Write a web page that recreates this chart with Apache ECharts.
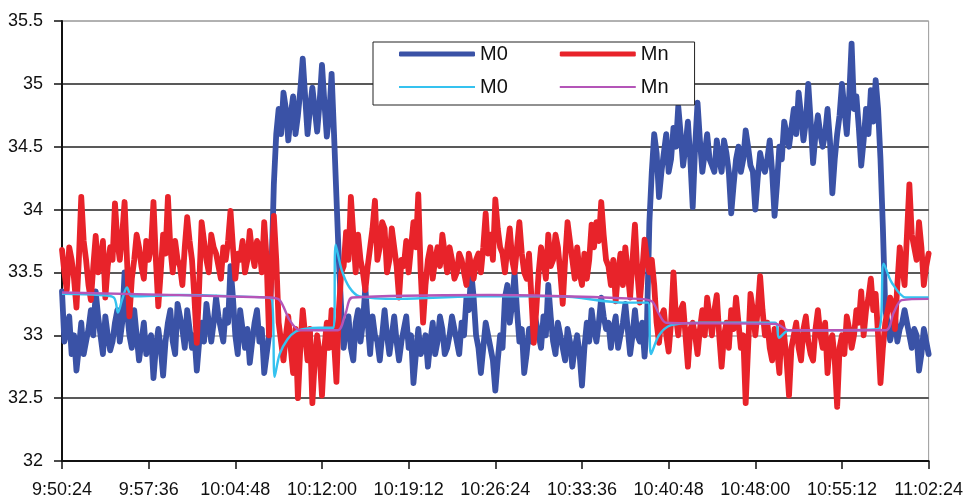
<!DOCTYPE html>
<html>
<head>
<meta charset="utf-8">
<script src="https://cdn.jsdelivr.net/npm/echarts@6/dist/echarts.min.js"></script>
<style>html,body{margin:0;padding:0;background:#fff;}#chart{width:966px;height:502px;}</style>
</head>
<body>
<div id="chart"></div>
<script>
// Time axis: seconds after 9:50:24, tick every 7:12 (432 s)
const xTickLabels = ['9:50:24','9:57:36','10:04:48','10:12:00','10:19:12','10:26:24','10:33:36','10:40:48','10:48:00','10:55:12','11:02:24'];
const sampleStep = 12; // seconds between samples of the measured series

// Measured M0 (thick blue)
const m0Measured = [
33.35,32.95,33.05,33.15,32.85,33.0,32.72,32.9,33.1,32.85,32.95,33.05,33.2,33.0,33.35,33.15,33.0,32.85,33.15,33.0,
32.88,32.95,33.1,33.2,32.95,33.1,33.5,33.2,33.0,32.9,33.2,33.0,32.8,32.95,33.1,32.85,32.95,33.0,32.66,32.9,
33.05,32.9,32.68,32.95,33.1,33.2,32.95,32.85,33.25,33.15,33.05,32.9,33.2,33.05,32.9,33.0,32.72,32.95,33.1,32.95,
33.25,33.1,32.95,33.1,33.3,33.15,33.05,32.95,33.2,33.1,33.55,33.3,33.0,32.85,33.2,33.05,32.9,33.05,32.78,32.95,
33.1,33.2,32.95,33.05,32.7,32.85,33.0,33.5,34.2,34.6,34.8,34.6,34.93,34.8,34.55,34.75,34.9,34.6,34.75,34.95,
35.2,34.9,34.6,34.8,34.97,34.8,34.62,34.85,35.15,34.85,34.58,34.75,35.08,34.6,34.1,33.6,33.2,32.9,33.05,33.15,
32.9,32.8,33.1,33.2,32.95,33.1,33.38,33.1,32.85,33.15,33.0,32.95,32.8,33.0,33.2,33.0,32.85,33.0,33.15,32.95,
32.8,32.95,33.05,33.15,32.9,33.0,32.62,32.85,33.05,32.85,32.9,33.0,32.75,32.95,33.1,32.85,32.95,33.15,33.05,32.85,
32.9,33.0,33.15,33.05,32.95,32.85,33.1,33.0,33.3,33.2,33.5,33.3,33.0,32.9,32.7,32.9,33.1,33.0,32.9,32.8,
32.56,32.8,33.0,32.9,33.3,33.4,33.1,33.25,33.5,33.2,32.95,33.05,32.7,32.85,33.05,32.95,33.2,33.1,33.0,32.9,
33.15,33.0,33.4,33.15,32.95,32.85,33.1,33.0,32.9,32.8,33.05,32.95,32.75,32.9,33.0,32.85,32.6,32.9,33.1,32.95,
33.2,33.05,32.95,33.1,33.3,33.15,33.05,33.1,32.9,33.05,33.15,32.9,33.0,33.1,33.25,33.05,32.85,33.0,33.2,33.0,
32.95,33.1,32.83,33.1,33.9,34.3,34.6,34.45,34.1,34.3,34.45,34.6,34.3,34.4,34.65,34.5,34.82,34.6,34.35,34.5,
34.7,34.4,34.02,34.5,34.85,34.55,34.3,34.45,34.6,34.4,34.35,34.3,34.55,34.4,34.3,34.55,34.45,34.3,33.97,34.2,
34.4,34.5,34.3,34.4,34.63,34.5,34.35,34.3,34.0,34.25,34.45,34.35,34.3,34.4,34.55,34.3,33.95,34.2,34.5,34.4,
34.7,34.6,34.5,34.65,34.8,34.6,34.93,34.75,34.55,34.7,35.0,34.7,34.37,34.6,34.75,34.6,34.5,34.6,34.8,34.55,
34.13,34.4,34.6,34.75,35.0,34.8,34.6,34.9,35.32,34.8,34.9,34.65,34.35,34.55,34.8,34.6,34.95,34.7,35.03,34.8,
34.4,33.85,33.2,33.1,32.96,33.05,33.15,32.95,33.05,33.1,33.2,33.1,33.0,32.9,33.05,33.0,32.72,32.85,33.05,32.95,
32.85
];

// Measured Mn (thick red)
const mnMeasured = [
33.68,33.5,33.36,33.7,33.6,33.45,33.22,33.6,34.1,33.75,33.6,33.4,33.28,33.55,33.79,33.5,33.6,33.75,33.3,33.55,
33.7,33.6,34.05,33.75,33.6,33.8,34.06,33.6,33.15,33.45,33.6,33.8,33.7,33.55,33.45,33.75,33.6,33.7,34.06,33.6,
33.23,33.5,33.8,33.65,34.1,33.7,33.5,33.75,33.6,33.55,33.4,33.7,33.94,33.75,33.6,33.3,32.94,33.4,33.9,33.75,
33.6,33.5,33.8,33.7,33.65,33.55,33.45,33.7,33.6,33.75,33.99,33.7,33.45,33.65,33.6,33.75,33.5,33.6,33.83,33.65,
33.55,33.75,33.7,33.5,33.9,33.6,33.0,33.5,33.95,33.6,33.1,32.95,32.8,33.0,33.15,32.9,32.7,33.05,32.5,32.9,
33.2,33.0,32.8,33.05,32.46,32.8,33.0,32.85,32.52,32.9,33.1,32.9,33.2,32.95,32.63,33.2,33.5,33.55,33.82,33.6,
34.1,33.8,33.5,33.8,33.6,33.5,33.36,33.55,33.7,33.85,34.07,33.6,33.7,33.9,33.85,33.5,33.6,33.85,33.7,33.55,
33.3,33.6,33.55,33.75,33.5,33.7,33.9,33.7,34.12,33.5,33.1,33.4,33.6,33.7,33.45,33.6,33.7,33.55,33.8,33.65,
33.5,33.7,33.6,33.45,33.5,33.65,33.6,33.5,33.4,33.65,33.55,33.45,33.6,33.65,33.5,33.7,33.97,33.65,33.8,33.6,
34.08,33.85,33.7,33.65,33.5,33.7,33.85,33.6,33.5,33.7,33.9,33.65,33.5,33.45,33.65,33.3,32.94,33.2,33.5,33.7,
33.6,33.45,33.8,33.55,33.6,33.8,33.7,33.5,33.25,33.6,33.9,33.75,33.6,33.45,33.7,33.5,33.4,33.65,33.45,33.6,
33.88,33.7,33.9,33.75,34.06,33.8,33.6,33.55,33.4,33.6,33.27,33.5,33.65,33.4,33.7,33.5,33.3,33.6,33.88,33.5,
33.26,33.5,33.76,33.6,33.5,33.6,33.4,33.1,32.94,33.15,33.2,33.0,32.87,33.1,33.5,33.15,33.0,33.2,33.25,33.0,
32.75,33.05,33.1,33.0,32.85,33.05,33.2,33.0,33.3,33.15,33.0,33.2,33.32,33.0,32.75,33.0,33.1,32.9,33.2,33.05,
33.3,33.1,32.9,33.0,32.46,32.9,33.33,33.2,33.0,33.2,33.47,33.2,33.0,33.1,32.9,32.8,33.05,32.9,32.7,33.1,
33.0,32.8,32.52,32.9,33.0,33.1,32.9,32.8,33.05,33.15,32.95,32.85,32.8,33.05,33.2,33.0,32.9,33.1,32.7,32.95,
33.0,32.8,32.43,32.9,33.0,32.85,33.15,33.05,32.9,33.0,33.2,33.1,33.35,33.0,33.2,33.3,33.45,33.2,33.33,33.0,
32.62,32.9,33.1,33.2,33.3,33.25,33.05,33.4,33.7,33.55,33.4,33.8,34.2,33.8,33.7,33.6,33.9,33.7,33.4,33.55,
33.65
];

// Model M0 (thin cyan): time (s after 9:50:24) and value
const m0ModelTimes = [0,189,259,279,299,324,348,587,836,1045,1060,1085,1125,1165,1209,1284,1354,1364,1394,1433,1483,1682,2080,2479,2802,2921,2936,2976,3036,3175,3554,3574,3623,3822,4071,4096,4136,4206,4320];
const m0ModelValues = [33.33,33.32,33.3,33.18,33.28,33.38,33.31,33.32,33.31,33.29,32.67,32.85,32.97,33.03,33.05,33.06,33.06,33.72,33.52,33.38,33.31,33.29,33.31,33.31,33.26,33.26,32.85,33.0,33.08,33.1,33.1,32.98,33.04,33.04,33.05,33.57,33.42,33.3,33.3];

// Model Mn (thin purple)
const mnModelTimes = [0,1035,1085,1135,1185,1374,1413,1448,2130,2877,2941,2976,3011,3559,3624,4106,4146,4186,4320];
const mnModelValues = [33.34,33.3,33.28,33.12,33.04,33.04,33.17,33.3,33.32,33.29,33.27,33.17,33.1,33.09,33.04,33.04,33.18,33.28,33.29];

const yTicks = {min: 32, max: 35.5, interval: 0.5};

function seriesFromSamples(vals) { return vals.map((v, i) => [i * sampleStep, v]); }
function seriesFromPairs(ts, vs) { return ts.map((t, i) => [t, vs[i]]); }

const FONT = 'Liberation Sans, Arial, sans-serif';
const chart = echarts.init(document.getElementById('chart'), null, {renderer: 'canvas'});
chart.setOption({
  animation: false,
  backgroundColor: '#ffffff',
  grid: {left: 62, right: 36, top: 21, bottom: 41, show: true, borderColor: '#9a9a9a', borderWidth: 1, backgroundColor: 'transparent'},
  xAxis: {
    type: 'value', min: 0, max: 4320, interval: 432,
    axisLine: {show: true, lineStyle: {color: '#111', width: 2}},
    axisTick: {show: true, inside: false, length: 8, lineStyle: {color: '#111', width: 1.5}},
    axisLabel: {fontSize: 18, color: '#111', fontFamily: FONT, margin: 20,
      formatter: v => xTickLabels[Math.round(v / 432)] || ''},
    splitLine: {show: false}
  },
  yAxis: {
    type: 'value', min: yTicks.min, max: yTicks.max, interval: yTicks.interval,
    axisLine: {show: true, lineStyle: {color: '#111', width: 2}},
    axisTick: {show: true, inside: false, length: 8, lineStyle: {color: '#111', width: 1.5}},
    axisLabel: {fontSize: 18, color: '#111', fontFamily: FONT, margin: 19,
      formatter: v => String(+v.toFixed(1))},
    splitLine: {show: true, lineStyle: {width: 1.5, color: ['#222','#222','#a8a8a8','#222','#222','#222','#222','#a8a8a8']}}
  },
  legend: [
    {
      data: ['M0', 'Mn'], left: 373, top: 42, orient: 'horizontal',
      padding: [2, 26, 41, 26], itemGap: 52, itemWidth: 76, itemHeight: 5, icon: 'roundRect',
      borderColor: '#222', borderWidth: 1, backgroundColor: '#ffffff',
      textStyle: {fontSize: 20, color: '#111', fontFamily: FONT, lineHeight: 20}
    },
    {
      data: ['M0 ', 'Mn '], left: 373, top: 77, orient: 'horizontal',
      padding: [0, 26, 0, 26], itemGap: 52, itemWidth: 76, itemHeight: 2, icon: 'rect',
      textStyle: {fontSize: 20, color: '#111', fontFamily: FONT, lineHeight: 20},
      formatter: n => n.trim()
    }
  ],
  series: [
    {name: 'M0', type: 'line', data: seriesFromSamples(m0Measured), showSymbol: false, symbol: 'none',
      lineStyle: {color: '#3a52a6', width: 5.8, join: 'round', cap: 'round'}, itemStyle: {color: '#3a52a6'}, z: 2},
    {name: 'Mn', type: 'line', data: seriesFromSamples(mnMeasured), showSymbol: false, symbol: 'none',
      lineStyle: {color: '#e8232a', width: 5.8, join: 'round', cap: 'round'}, itemStyle: {color: '#e8232a'}, z: 3},
    {name: 'M0 ', type: 'line', data: seriesFromPairs(m0ModelTimes, m0ModelValues), showSymbol: false, symbol: 'none',
      smooth: 0.3, lineStyle: {color: '#35c2ef', width: 2.4}, itemStyle: {color: '#35c2ef'}, z: 4},
    {name: 'Mn ', type: 'line', data: seriesFromPairs(mnModelTimes, mnModelValues), showSymbol: false, symbol: 'none',
      smooth: 0.3, lineStyle: {color: '#b455b8', width: 2.4}, itemStyle: {color: '#b455b8'}, z: 5}
  ]
});
</script>
</body>
</html>
